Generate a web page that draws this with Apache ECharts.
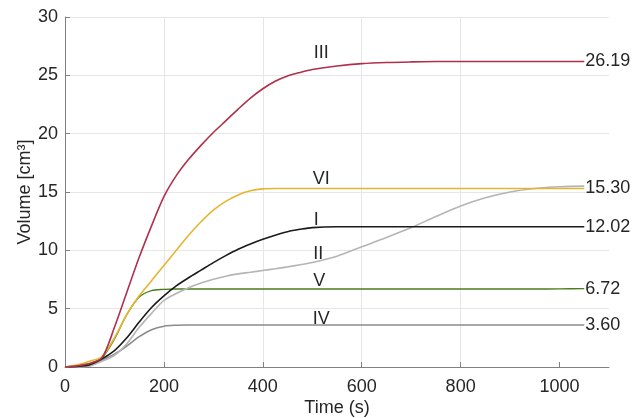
<!DOCTYPE html>
<html>
<head>
<meta charset="utf-8">
<title>Volume vs time</title>
<script src="https://cdn.jsdelivr.net/npm/echarts@6.0.0/dist/echarts.min.js"></script>
<style>
  html, body { margin: 0; padding: 0; background: #fff; }
  #chart { width: 643px; height: 418px; }
</style>
</head>
<body>
<div id="chart"></div>
<script>
// 时间轴 (s)
const time = [0, 25, 50, 75, 100, 125, 150, 175, 200, 225, 250, 275, 300, 325, 350, 375, 400,
  425, 450, 475, 500, 550, 600, 650, 700, 750, 800, 850, 900, 950, 1000, 1050];

// 各曲线体积 (cm3)
const volIII = [0, 0.1, 0.3, 0.8, 3.4, 6.4, 9.4, 12.1, 14.6, 16.4, 17.8, 19.0, 20.1, 21.1, 22.1, 23.05, 23.85,
  24.5, 24.95, 25.25, 25.5, 25.8, 26.0, 26.1, 26.15, 26.18, 26.19, 26.19, 26.19, 26.19, 26.19, 26.19];
const volVI = [0, 0.2, 0.5, 0.9, 2.5, 4.5, 6.1, 7.4, 8.7, 10.0, 11.3, 12.45, 13.45, 14.2, 14.75, 15.1, 15.27,
  15.3, 15.3, 15.3, 15.3, 15.3, 15.3, 15.3, 15.3, 15.3, 15.3, 15.3, 15.3, 15.3, 15.3, 15.3];
const volI = [0, 0.05, 0.2, 0.7, 1.4, 2.5, 3.85, 5.1, 6.1, 6.95, 7.65, 8.3, 8.95, 9.55, 10.1, 10.55, 10.95,
  11.3, 11.6, 11.8, 11.95, 12.02, 12.02, 12.02, 12.02, 12.02, 12.02, 12.02, 12.02, 12.02, 12.02, 12.02];
const volII = [0, 0, 0.1, 0.5, 1.0, 2.0, 3.4, 4.6, 5.7, 6.3, 6.8, 7.2, 7.52, 7.78, 7.98, 8.12, 8.27,
  8.42, 8.58, 8.76, 8.95, 9.5, 10.3, 11.1, 11.95, 12.9, 13.8, 14.5, 15.0, 15.3, 15.45, 15.5];
const volV = [0, 0.1, 0.3, 0.8, 2.4, 4.5, 6.0, 6.55, 6.65, 6.68, 6.68, 6.68, 6.68, 6.68, 6.68, 6.68, 6.68,
  6.68, 6.68, 6.68, 6.68, 6.68, 6.68, 6.68, 6.68, 6.68, 6.68, 6.68, 6.68, 6.68, 6.7, 6.72];
const volIV = [0, 0, 0.1, 0.6, 1.1, 1.8, 2.6, 3.2, 3.5, 3.58, 3.6, 3.6, 3.6, 3.6, 3.6, 3.6, 3.6,
  3.6, 3.6, 3.6, 3.6, 3.6, 3.6, 3.6, 3.6, 3.6, 3.6, 3.6, 3.6, 3.6, 3.6, 3.6];

// 刻度
const xTicks = [0, 200, 400, 600, 800, 1000];
const curveNames = ['IV', 'V', 'II', 'I', 'VI', 'III'];
const endTexts = ['3.60', '6.72', '', '12.02', '15.30', '26.19'];
const nameAt = 500; // 罗马数字标在该时刻附近

(function () {
  const myChart = echarts.init(document.getElementById('chart'));
  const font = "'Liberation Sans', Arial, sans-serif";
  const textColor = '#262626';

  // dy: 罗马数字相对曲线的上下微调
  function makeSeries(idx, values, color, width, dx, dy) {
    return {
      name: curveNames[idx],
      type: 'line',
      smooth: 0.3,
      symbol: 'circle',
      symbolSize: 0,
      showSymbol: true,
      lineStyle: { color: color, width: width },
      itemStyle: { color: color },
      label: { show: false },
      data: time.map(function (t, i) {
        if (t !== nameAt) return [t, values[i]];
        return {
          value: [t, values[i]],
          label: {
            show: true,
            position: 'top',
            distance: 0,
            offset: [dx, dy],
            formatter: curveNames[idx],
            fontSize: 18,
            fontFamily: font,
            color: textColor
          }
        };
      }),
      endLabel: {
        show: endTexts[idx] !== '',
        formatter: endTexts[idx],
        distance: 1,
        fontSize: 18,
        fontFamily: font,
        color: textColor
      },
      emphasis: { disabled: true }
    };
  }

  let option = {
    animation: false,
    grid: {
      left: 65,
      right: 34,
      top: 17,
      bottom: 51,
      outerBoundsMode: 'none'
    },
    xAxis: {
      type: 'value',
      min: 0,
      max: 1100,
      interval: 200,
      name: 'Time (s)',
      nameLocation: 'middle',
      nameGap: 32,
      nameMoveOverlap: false,
      nameTextStyle: { fontSize: 18, fontFamily: font, color: textColor },
      axisLine: { lineStyle: { color: '#808080', width: 1 } },
      axisTick: { inside: true, length: 5, customValues: xTicks, lineStyle: { color: '#808080' } },
      axisLabel: {
        customValues: xTicks,
        formatter: function (v) { return String(v); },
        fontSize: 18, fontFamily: font, color: textColor, margin: 11
      },
      splitLine: { show: true, showMaxLine: false, lineStyle: { color: '#e6e6e6' } }
    },
    yAxis: {
      type: 'value',
      min: 0,
      max: 30,
      interval: 5,
      name: 'Volume [cm³]',
      nameLocation: 'middle',
      nameGap: 31,
      nameMoveOverlap: false,
      nameTextStyle: { fontSize: 18, fontFamily: font, color: textColor },
      axisLine: { show: true, lineStyle: { color: '#808080', width: 1 } },
      axisTick: { show: true, inside: true, length: 5, lineStyle: { color: '#808080' } },
      axisLabel: { fontSize: 18, fontFamily: font, color: textColor, margin: 7 },
      splitLine: { show: true, lineStyle: { color: '#e6e6e6' } }
    },
    series: [
      makeSeries(0, volIV, '#8c8c8c', 1.6, 9, 3),
      makeSeries(1, volV, '#4d7c1c', 1.4, 7, 1),
      makeSeries(2, volII, '#b5b5b5', 1.6, 6, 0),
      makeSeries(3, volI, '#1a1a1a', 1.6, 4, 1.5),
      makeSeries(4, volVI, '#e6b530', 1.6, 9, 0),
      makeSeries(5, volIII, '#b0304c', 1.6, 9, -7)
    ]
  };
  myChart.setOption(option);
  window.addEventListener('resize', function () {
    myChart.resize();
  });
})();
</script>
</body>
</html>
